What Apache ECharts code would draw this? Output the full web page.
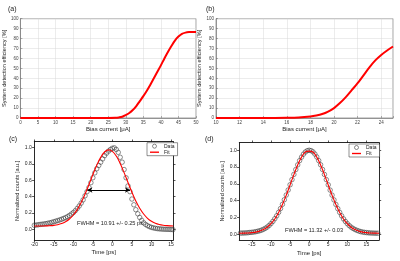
<!DOCTYPE html>
<html><head><meta charset="utf-8">
<script src="https://cdn.jsdelivr.net/npm/echarts@6/dist/echarts.min.js"></script>
<style>html,body{margin:0;padding:0;background:#fff}#c{width:400px;height:261px}</style>
</head><body><div id="c"></div>
<script>
// Panel (a): efficiency vs bias current
const aX = [0,5,10,15,20,25,27,28,29,30,31,32,33,34,35,36,37,38,39,40,41,42,43,44,45,46,47,48,49,50];
const aY = [0,0,0,0,0,0.1,0.3,0.6,1.2,3,5,8,12,17,22,27.5,33.5,40,46.5,53,60,66.5,72.5,78,82,84.8,86,86.5,86.6,86.6];
// Panel (b)
const bX = [10,12,14,16,17,18,18.5,19,19.5,20,20.5,21,21.5,22,22.5,23,23.5,24,24.5,25];
const bY = [0,0,0,0.2,0.5,1.5,2.5,4,6.5,10,15,21,28,35,43,51,58,63.5,68,72];
// Panel (c): jitter histogram and fit
const cX = [-20,-19.5,-19,-18.5,-18,-17.5,-17,-16.5,-16,-15.5,-15,-14.5,-14,-13.5,-13,-12.5,-12,-11.5,-11,-10.5,-10,-9.5,-9,-8.5,-8,-7.5,-7,-6.5,-6,-5.5,-5,-4.5,-4,-3.5,-3,-2.5,-2,-1.5,-1,-0.5,0,0.5,1,1.5,2,2.5,3,3.5,4,4.5,5,5.5,6,6.5,7,7.5,8,8.5,9,9.5,10,10.5,11,11.5,12,12.5,13,13.5,14,14.5,15,15.5];
const cY = [0.05,0.053,0.056,0.06,0.063,0.066,0.07,0.075,0.08,0.086,0.093,0.1,0.107,0.115,0.123,0.133,0.143,0.155,0.17,0.187,0.205,0.228,0.255,0.285,0.32,0.36,0.41,0.46,0.51,0.57,0.63,0.69,0.74,0.78,0.82,0.86,0.9,0.93,0.955,0.975,0.99,0.995,0.975,0.94,0.88,0.82,0.73,0.63,0.53,0.46,0.37,0.3,0.24,0.19,0.145,0.11,0.08,0.06,0.045,0.033,0.024,0.018,0.013,0.009,0.006,0.004,0.002,0.001,0,0,-0.002,-0.003];
const cFitX = [-20,-19,-18,-17,-16,-15,-14,-13,-12,-11,-10,-9,-8,-7,-6,-5,-4,-3,-2,-1,0,1,2,3,4,5,6,7,8,9,10,11,12,13,14,15,15.6];
const cFitY = [0.04,0.04,0.041,0.042,0.045,0.049,0.057,0.071,0.093,0.126,0.175,0.241,0.327,0.431,0.547,0.669,0.783,0.879,0.944,0.97,0.952,0.895,0.804,0.692,0.571,0.453,0.346,0.257,0.187,0.135,0.098,0.074,0.059,0.05,0.045,0.042,0.041];
const cArrowX = [-6.4, 4.5];
const cArrowY = 0.48;
// Panel (d)
const dX = [-18,-17.5,-17,-16.5,-16,-15.5,-15,-14.5,-14,-13.5,-13,-12.5,-12,-11.5,-11,-10.5,-10,-9.5,-9,-8.5,-8,-7.5,-7,-6.5,-6,-5.5,-5,-4.5,-4,-3.5,-3,-2.5,-2,-1.5,-1,-0.5,0,0.5,1,1.5,2,2.5,3,3.5,4,4.5,5,5.5,6,6.5,7,7.5,8,8.5,9,9.5,10,10.5,11,11.5,12,12.5,13,13.5,14,14.5,15,15.5,16,16.5,17,17.5,18];
const dY = [0.012,0.013,0.014,0.015,0.017,0.02,0.022,0.025,0.029,0.034,0.04,0.047,0.057,0.069,0.084,0.103,0.126,0.152,0.184,0.219,0.26,0.305,0.355,0.41,0.466,0.526,0.588,0.65,0.712,0.77,0.826,0.876,0.918,0.953,0.979,0.995,1.0,0.996,0.981,0.955,0.92,0.877,0.827,0.771,0.712,0.65,0.588,0.525,0.465,0.408,0.354,0.304,0.259,0.218,0.182,0.151,0.125,0.102,0.083,0.068,0.055,0.045,0.037,0.03,0.025,0.021,0.018,0.016,0.014,0.013,0.012,0.011,0.011];
const dFitX = [-18.3,-17,-16,-15,-14,-13,-12,-11,-10,-9,-8,-7,-6,-5,-4,-3,-2,-1,0,1,2,3,4,5,6,7,8,9,10,11,12,13,14,15,16,17,18.3];
const dFitY = [0.011,0.012,0.014,0.018,0.024,0.036,0.054,0.082,0.124,0.181,0.258,0.353,0.464,0.586,0.71,0.825,0.918,0.979,0.99,0.979,0.918,0.825,0.71,0.586,0.464,0.353,0.258,0.181,0.124,0.082,0.054,0.036,0.024,0.018,0.014,0.012,0.011];

const zip = (xs, ys) => xs.map((x, i) => [x, ys[i]]);
const FONT = 'Liberation Sans';
const chart = echarts.init(document.getElementById('c'), null, {renderer: 'canvas'});

function matlabX(grid, min, max, interval, name) {
  return {gridIndex: grid, type: 'value', min, max, interval,
    name, nameLocation: 'middle', nameGap: 6,
    nameTextStyle: {fontFamily: FONT, fontSize: 6, color: '#222'},
    axisLine: {show: true, onZero: false, lineStyle: {color: '#666', width: 0.6}},
    axisTick: {show: true, inside: true, length: 2, lineStyle: {color: '#666', width: 0.5}},
    axisLabel: {fontFamily: FONT, fontSize: 4.5, color: '#444', margin: 2,
      formatter: v => (v === max && v % interval !== 0) ? '' : String(v)},
    splitLine: {show: true, lineStyle: {color: '#d8d8d8', width: 0.5}}};
}
function matlabY(grid, name) {
  return {gridIndex: grid, type: 'value', min: 0, max: 100, interval: 10,
    name, nameLocation: 'middle', nameGap: 10,
    nameTextStyle: {fontFamily: FONT, fontSize: 5.6, color: '#222'},
    axisLine: {show: true, onZero: false, lineStyle: {color: '#666', width: 0.6}},
    axisTick: {show: true, inside: true, length: 2, lineStyle: {color: '#666', width: 0.5}},
    axisLabel: {fontFamily: FONT, fontSize: 4.5, color: '#444', margin: 2},
    splitLine: {show: true, lineStyle: {color: '#d8d8d8', width: 0.5}}};
}
function originAxis(grid, dim, pos, min, max, ticks, name, gap, showLabel, fmt) {
  const o = {gridIndex: grid, type: 'value', min, max, position: pos,
    axisLine: {show: true, onZero: false, lineStyle: {color: '#111', width: 0.9}},
    axisTick: {show: true, inside: false, length: 2.2, customValues: ticks, lineStyle: {color: '#111', width: 0.7}},
    axisLabel: {show: showLabel, customValues: ticks, fontFamily: FONT, fontSize: 5, color: '#222', margin: 2.5, formatter: fmt},
    splitLine: {show: false}};
  if (name) {
    o.name = name; o.nameLocation = 'middle'; o.nameGap = gap;
    o.nameTextStyle = {fontFamily: FONT, fontSize: dim === 'x' ? 6 : 5.6, color: '#222'};
  }
  return o;
}
const cxT = [-20,-15,-10,-5,0,5,10,15];
const dxT = [-15,-10,-5,0,5,10,15];
const yT = [0,0.2,0.4,0.6,0.8,1.0];
const f1 = v => v.toFixed(1);
const fi = v => String(v);

const legendData = [
  {name: 'Data', icon: 'circle', itemStyle: {color: 'rgba(255,255,255,0)', borderColor: '#333', borderWidth: 0.7}},
  {name: 'Fit', icon: 'path://M0 0H20V3H0Z', itemStyle: {color: '#ff0000', borderWidth: 0}}
];

const option = {
  animation: false,
  backgroundColor: '#fff',
  grid: [
    {left: 17.3, top: 18.7, width: 178.7, height: 99.3, show: true, borderColor: '#666', borderWidth: 0.6},
    {left: 216, top: 18.7, width: 177, height: 99.3, show: true, borderColor: '#666', borderWidth: 0.6},
    {left: 34.3, top: 141.7, width: 139, height: 98.3},
    {left: 239.3, top: 142.7, width: 139.7, height: 97.3}
  ],
  xAxis: [
    matlabX(0, 0, 50, 5, 'Bias current [\u03bcA]'),
    matlabX(1, 10, 25, 2, 'Bias current [\u03bcA]'),
    originAxis(2, 'x', 'bottom', -20, 15.6, cxT, 'Time [ps]', 9, true, fi),
    originAxis(2, 'x', 'top', -20, 15.6, cxT, null, 0, false, fi),
    originAxis(3, 'x', 'bottom', -18.3, 18.3, dxT, 'Time [ps]', 10, true, fi),
    originAxis(3, 'x', 'top', -18.3, 18.3, dxT, null, 0, false, fi)
  ],
  yAxis: [
    matlabY(0, 'System detection efficiency [%]'),
    matlabY(1, 'System detection efficiency [%]'),
    originAxis(2, 'y', 'left', -0.13, 1.07, yT, 'Normalized counts [a.u.]', 12, true, f1),
    originAxis(2, 'y', 'right', -0.13, 1.07, yT, null, 0, false, f1),
    originAxis(3, 'y', 'left', -0.07, 1.09, yT, 'Normalized counts [a.u.]', 12, true, f1),
    originAxis(3, 'y', 'right', -0.07, 1.09, yT, null, 0, false, f1)
  ],
  title: [
    {text: '(a)', left: 3, top: 1, textStyle: {fontFamily: FONT, fontSize: 7, fontWeight: 'normal', color: '#222'}},
    {text: '(b)', left: 201, top: 1, textStyle: {fontFamily: FONT, fontSize: 7, fontWeight: 'normal', color: '#222'}},
    {text: '(c)', left: 4, top: 131, textStyle: {fontFamily: FONT, fontSize: 7, fontWeight: 'normal', color: '#222'}},
    {text: '(d)', left: 200, top: 131, textStyle: {fontFamily: FONT, fontSize: 7, fontWeight: 'normal', color: '#222'}},
    {text: 'FWHM = 10.91 +/- 0.25 ps', left: 72, top: 215, textStyle: {fontFamily: FONT, fontSize: 5.6, fontWeight: 'normal', color: '#222'}},
    {text: 'FWHM = 11.32 +/- 0.03', left: 280, top: 222, textStyle: {fontFamily: FONT, fontSize: 5.6, fontWeight: 'normal', color: '#222'}}
  ],
  legend: [
    {data: legendData, orient: 'vertical', left: 147, top: 142.7, itemWidth: 9, itemHeight: 4, itemGap: 1,
      padding: [1, 3, 1, 3], borderColor: '#222', borderWidth: 0.5, backgroundColor: '#fff',
      textStyle: {fontFamily: FONT, fontSize: 5, color: '#222'}},
    {data: legendData, orient: 'vertical', left: 349, top: 144, itemWidth: 9, itemHeight: 4, itemGap: 1,
      padding: [1, 3, 1, 3], borderColor: '#222', borderWidth: 0.5, backgroundColor: '#fff',
      textStyle: {fontFamily: FONT, fontSize: 5, color: '#222'}}
  ],
  series: [
    {type: 'line', xAxisIndex: 0, yAxisIndex: 0, data: zip(aX, aY), smooth: 0.3, showSymbol: false, symbol: 'none',
      lineStyle: {color: '#ff0000', width: 2}},
    {type: 'line', xAxisIndex: 1, yAxisIndex: 1, data: zip(bX, bY), smooth: 0.3, showSymbol: false, symbol: 'none',
      lineStyle: {color: '#ff0000', width: 2}},
    {name: 'Data', type: 'scatter', xAxisIndex: 2, yAxisIndex: 2, data: zip(cX, cY), symbol: 'circle', symbolSize: 4.5,
      itemStyle: {color: 'rgba(255,255,255,0)', borderColor: '#333', borderWidth: 0.7}, z: 3},
    {name: 'Fit', type: 'line', xAxisIndex: 2, yAxisIndex: 2, data: zip(cFitX, cFitY), smooth: 0.4, showSymbol: false, symbol: 'none',
      lineStyle: {color: '#ff0000', width: 1.1}, itemStyle: {color: '#ff0000'}, z: 4,
      markLine: {silent: true, symbol: ['arrow', 'arrow'], symbolSize: [4, 5], label: {show: false},
        lineStyle: {color: '#000', width: 1.1, type: 'solid'},
        data: [[{coord: [cArrowX[0], cArrowY]}, {coord: [cArrowX[1], cArrowY]}]]}},
    {name: 'Data', type: 'scatter', xAxisIndex: 4, yAxisIndex: 4, data: zip(dX, dY), symbol: 'circle', symbolSize: 4.5,
      itemStyle: {color: 'rgba(255,255,255,0)', borderColor: '#333', borderWidth: 0.7}, z: 3},
    {name: 'Fit', type: 'line', xAxisIndex: 4, yAxisIndex: 4, data: zip(dFitX, dFitY), smooth: 0.4, showSymbol: false, symbol: 'none',
      lineStyle: {color: '#ff0000', width: 1.1}, itemStyle: {color: '#ff0000'}, z: 4}
  ]
};
chart.setOption(option);
</script></body></html>
